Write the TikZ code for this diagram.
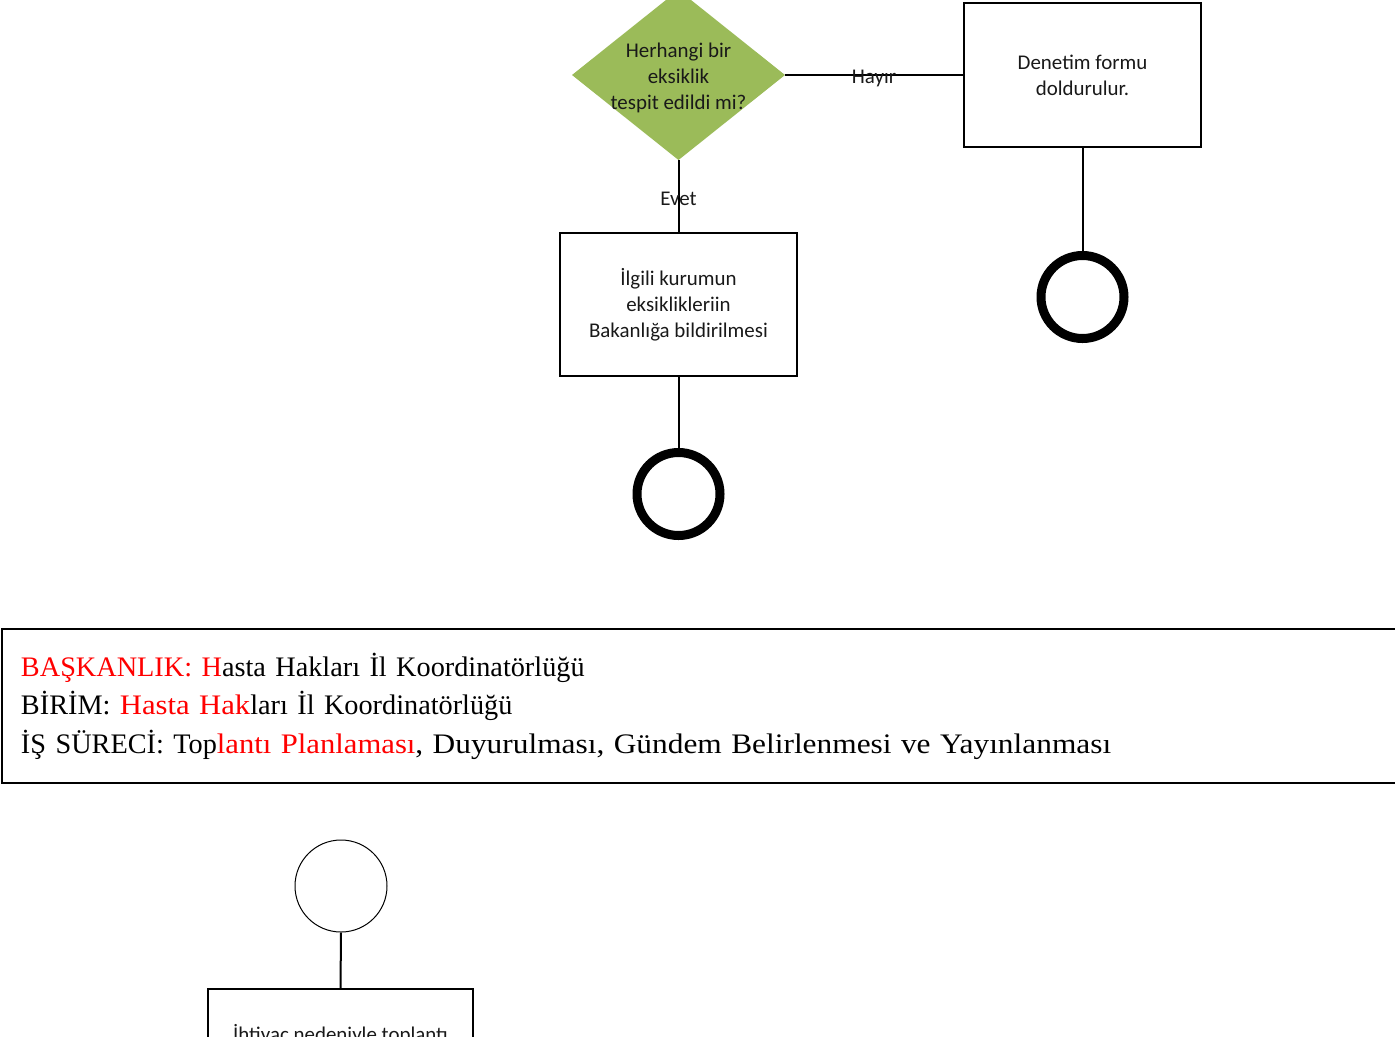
\documentclass[tikz,border=0pt]{standalone}
\usepackage{fontspec}
\setmainfont{Carlito}
\newfontfamily\timesf{Liberation Serif}
\newfontfamily\timeswide[FakeStretch=1.085]{Liberation Serif}
\newfontfamily\timeswider[FakeStretch=1.11]{Liberation Serif}
\usetikzlibrary{shapes.geometric}
\definecolor{olivefill}{HTML}{9BBB59}
\begin{document}
\begin{tikzpicture}[x=0.75pt,y=-0.75pt,
  flowtxt/.style={font=\fontsize{15.7}{19.5}\selectfont, text=black!90},
  edgelbl/.style={flowtxt, yshift=-2.25pt},
  procbox/.style={draw, line width=1.5pt, rectangle, minimum width=177.75pt, minimum height=107.5pt, inner sep=0pt, align=center, flowtxt},
  decbox/.style={diamond, fill=olivefill, minimum width=159.75pt, minimum height=127.5pt, inner sep=0pt, outer sep=0pt, flowtxt},
  endcirc/.style={circle, draw, line width=6.75pt, minimum size=62.25pt, inner sep=0pt},
  startcirc/.style={circle, draw, line width=0.75pt, minimum size=69pt, inner sep=0pt},
  conn/.style={draw, line width=1.5pt},
  headbox/.style={draw, line width=1.5pt, rectangle, anchor=north west, minimum height=115.5pt, text width=1036.5pt, inner xsep=14.25pt, inner ysep=0pt, align=left, font=\timesf\fontsize{21.2}{28.9}\selectfont}
]
\useasboundingbox (0,0) rectangle (1395,1036);

% decision
\node[decbox] (dec) at (678.5,75) {\smash{\makebox[0pt]{\raisebox{-6pt}{\begin{tabular}{@{}c@{}}Herhangi bir\\eksiklik\\tespit edildi mi?\end{tabular}}}}};

% process boxes
\node[procbox] (den) at (1082.5,75) {Denetim formu\\doldurulur.};
\node[procbox] (ilg) at (678.5,304.5) {İlgili kurumun\\eksiklikleriin\\Bakanlığa bildirilmesi};

% end circles
\node[endcirc] (end1) at (1082.5,297) {};
\node[endcirc] (end2) at (678.5,494) {};

% connectors
\draw[conn] (dec.east) -- node[edgelbl]{Hayır} (den.west);
\draw[conn] (dec.south) -- node[edgelbl]{Evet} (ilg.north);
\draw[conn] (den.south) -- (end1.north);
\draw[conn] (ilg.south) -- (end2.north);

% header
\node[headbox] (head) at (1,628) {{\color{red}BAŞKANLIK: H}asta Hakları İl Koordinatörlüğü\\
BİRİM: {\color{red}\timeswide Hasta Hak}ları İl Koordinatörlüğü\\
İŞ SÜRECİ: Top{\timeswide\color{red}lantı Planlaması}{\timeswider, Duyurulması, Gündem Belirlenmesi ve Yayınlanması}};

% lower flow
\node[startcirc] (start) at (341,886) {};
\node[procbox, minimum width=198.75pt, minimum height=69pt] (iht) at (340.5,1035) {İhtiyaç nedeniyle toplantı};
\draw[conn] (start.south) -- (iht.north);
\end{tikzpicture}
\end{document}
